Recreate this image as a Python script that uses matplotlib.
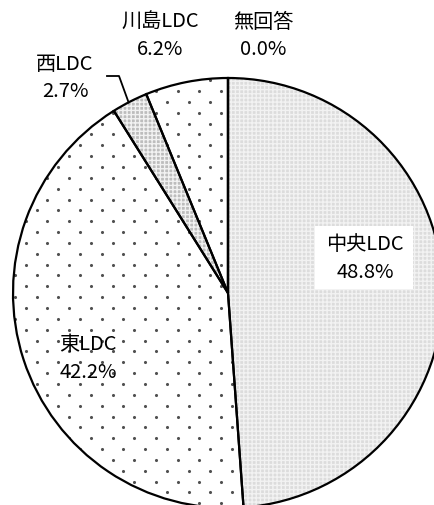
import matplotlib
matplotlib.use("Agg")
import matplotlib.pyplot as plt
from matplotlib.patches import Wedge, Rectangle
import numpy as np

plt.rcParams['font.family'] = ['Noto Sans CJK JP', 'DejaVu Sans']
plt.rcParams['hatch.linewidth'] = 1.0

categories = ['中央LDC', '東LDC', '西LDC', '川島LDC', '無回答']
values = [48.8, 42.2, 2.7, 6.2, 0.0]
labels_pct = ['48.8%', '42.2%', '2.7%', '6.2%', '0.0%']

W, H = 434, 506
fig = plt.figure(figsize=(W / 100, H / 100), dpi=100)
ax = fig.add_axes([0, 0, 1, 1])

cx, cy, R = 228, H - 294, 215
faces = ['#dcdcdc', 'white', '#bdbdbd', 'white', 'white']
dotted = [False, True, False, True, True]
wedges, _ = ax.pie(values, startangle=90, counterclock=False, center=(cx, cy),
                   radius=R, frame=True,
                   wedgeprops=dict(edgecolor='none', linewidth=0))
ax.set_xlim(0, W)
ax.set_ylim(0, H)
ax.set_aspect('auto')
ax.axis('off')

# dot lattice texture (staggered)
sx, sy = 21.7, 10.85
xs, ys = [], []
for j, yy in enumerate(np.arange(H - 406.7 - 60 * sy, H + sy, sy)):
    off = 0 if j % 2 == 0 else sx / 2
    for xx in np.arange(58.3 - 3 * sx + off, W + sx, sx):
        xs.append(xx)
        ys.append(yy)
xs, ys = np.array(xs), np.array(ys)

for w, fc, d in zip(wedges, faces, dotted):
    w.set_facecolor(fc)
    w.set_zorder(1)
    if d:
        sc = ax.scatter(xs, ys, s=5, color='#505050', linewidths=0, zorder=1.5)
        sc.set_clip_path(w)
    else:
        tex = Wedge((cx, cy), R, w.theta1, w.theta2, facecolor='none',
                    edgecolor='#f2f2f2', hatch='++++', linewidth=0, zorder=1.5)
        ax.add_patch(tex)
    outline = Wedge((cx, cy), R, w.theta1, w.theta2, facecolor='none',
                    edgecolor='black', linewidth=1.6, zorder=2)
    ax.add_patch(outline)

fs = 14.5
def label(x, y1, y2, name, pct):
    ax.text(x, H - y1, name, ha='center', va='center', fontsize=fs, zorder=5)
    ax.text(x, H - y2, pct, ha='center', va='center', fontsize=fs, zorder=5)

ax.add_patch(Rectangle((315, H - 290), 98, 63, facecolor='white',
                       edgecolor='none', zorder=4))
label(365, 245, 272, categories[0], labels_pct[0])
label(88, 344, 373, categories[1], labels_pct[1])
label(65, 64, 91, categories[2], labels_pct[2])
label(160, 22, 49, categories[3], labels_pct[3])
label(263, 22, 49, categories[4], labels_pct[4])

# leader line for 西LDC
mid = 90 - 360 * (sum(values[:2]) + values[2] / 2) / 100
ex = cx + R * np.cos(np.radians(mid))
ey = cy + R * np.sin(np.radians(mid))
ax.plot([107, 119, ex], [H - 77, H - 77, ey], color='black', lw=1.3, zorder=4)

fig.savefig('out.png', dpi=100)
